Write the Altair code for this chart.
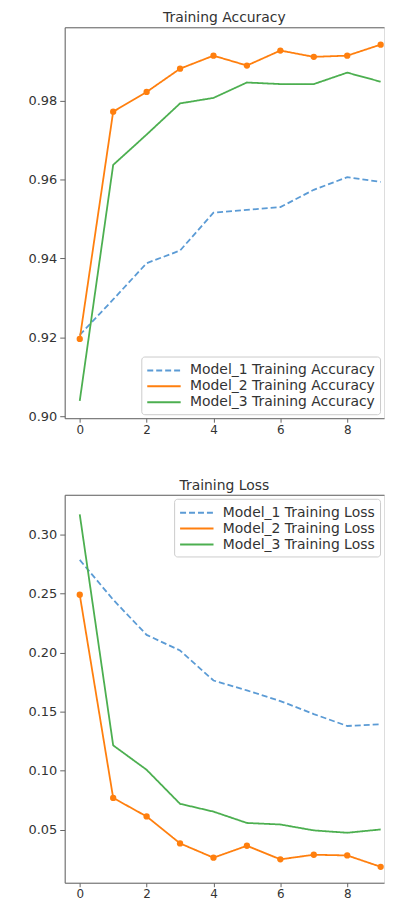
import altair as alt
import pandas as pd

epochs = [0, 1, 2, 3, 4, 5, 6, 7, 8, 9]

acc_model1 = [0.9206, 0.9296, 0.9388, 0.9420, 0.9516, 0.9523, 0.9530, 0.9574, 0.9606, 0.9594]
acc_model2 = [0.9196, 0.9772, 0.9822, 0.9881, 0.9914, 0.9889, 0.9927, 0.9911, 0.9914, 0.9942]
acc_model3 = [0.9039, 0.9637, 0.9714, 0.9793, 0.9807, 0.9846, 0.9842, 0.9842, 0.9871, 0.9848]

loss_model1 = [0.2785, 0.2448, 0.2150, 0.2018, 0.1764, 0.1680, 0.1590, 0.1480, 0.1379, 0.1393]
loss_model2 = [0.2490, 0.0770, 0.0613, 0.0385, 0.0264, 0.0365, 0.0250, 0.0289, 0.0283, 0.0187]
loss_model3 = [0.3170, 0.1215, 0.1008, 0.0720, 0.0654, 0.0558, 0.0545, 0.0495, 0.0475, 0.0503]

acc_labels = ["Model_1 Training Accuracy", "Model_2 Training Accuracy", "Model_3 Training Accuracy"]
loss_labels = ["Model_1 Training Loss", "Model_2 Training Loss", "Model_3 Training Loss"]

acc_ticks = [0.90, 0.92, 0.94, 0.96, 0.98]
loss_ticks = [0.05, 0.10, 0.15, 0.20, 0.25, 0.30]
x_ticks = [0, 2, 4, 6, 8]

colors = ["#5b9bd5", "#ff7f0e", "#4caf50"]
dashes = [[6, 3], [1, 0], [1, 0]]

FONT = "DejaVu Sans"
TEXT = "#333333"
AXIS = "#666666"


def long_table(labels, series):
    rows = []
    for lab, vals in zip(labels, series):
        for e, v in zip(epochs, vals):
            rows.append({"epoch": e, "value": v, "series": lab})
    return pd.DataFrame(rows)


def panel(labels, series, title, ydomain, yticks, legend_orient, height):
    df = long_table(labels, series)
    xscale = alt.Scale(domain=[-0.45, 9.1], nice=False, zero=False)
    yscale = alt.Scale(domain=ydomain, nice=False, zero=False)
    yaxis = alt.Axis(values=yticks, format=".2f", grid=False, tickSize=5,
                     labelPadding=3, labelFontSize=13, labelColor=TEXT,
                     domainColor=AXIS, tickColor=AXIS, title=None,
                     labelFont=FONT, minExtent=56, maxExtent=56)
    xaxis = alt.Axis(values=x_ticks, format="d", grid=False, tickSize=4,
                     labelPadding=2, labelFontSize=12, labelColor=TEXT,
                     domainColor=AXIS, tickColor=AXIS, title=None,
                     labelFont=FONT)
    legend = alt.Legend(title=None, orient=legend_orient,
                        symbolType="M-1,0H3.2", symbolSize=256,
                        symbolStrokeWidth=2, labelFontSize=14, labelLimit=0,
                        labelFont=FONT, labelColor=TEXT, fillColor="white",
                        strokeColor="#cccccc", cornerRadius=3, padding=5,
                        rowPadding=0, labelOffset=26, offset=4)
    line = alt.Chart(df).mark_line(strokeWidth=1.8).encode(
        x=alt.X("epoch:Q", scale=xscale, axis=xaxis),
        y=alt.Y("value:Q", scale=yscale, axis=yaxis),
        color=alt.Color("series:N", scale=alt.Scale(domain=labels, range=colors), legend=legend),
        strokeDash=alt.StrokeDash("series:N", scale=alt.Scale(domain=labels, range=dashes), legend=legend),
    )
    pts = alt.Chart(df).transform_filter(
        alt.datum.series == labels[1]
    ).mark_circle(size=40, color=colors[1], opacity=1).encode(
        x=alt.X("epoch:Q", scale=xscale,
                axis=alt.Axis(orient="top", labels=False, ticks=False, grid=False,
                              domainColor=AXIS, title=None, minExtent=0, maxExtent=0)),
        y=alt.Y("value:Q", scale=yscale),
    )
    return alt.layer(line, pts).resolve_axis(x="independent").properties(
        width=321, height=height,
        title=alt.TitleParams(title, fontSize=14, font=FONT, color=TEXT,
                              fontWeight="normal", offset=2),
    )


top = panel(acc_labels, [acc_model1, acc_model2, acc_model3], "Training Accuracy",
            [0.8995, 0.9986], acc_ticks, "bottom-right", 393)
bottom = panel(loss_labels, [loss_model1, loss_model2, loss_model3], "Training Loss",
               [0.0052, 0.3336], loss_ticks, "top-right", 390)

chart = alt.vconcat(top, bottom, spacing=42).resolve_scale(
    color="independent", strokeDash="independent"
).resolve_legend(
    color="independent", strokeDash="independent"
).properties(
    padding={"left": 0, "top": 0, "right": 0, "bottom": 0}
).configure_view(stroke=None).configure(background="white")

chart.save("out.html", embed_options={"renderer": "svg", "actions": False})
